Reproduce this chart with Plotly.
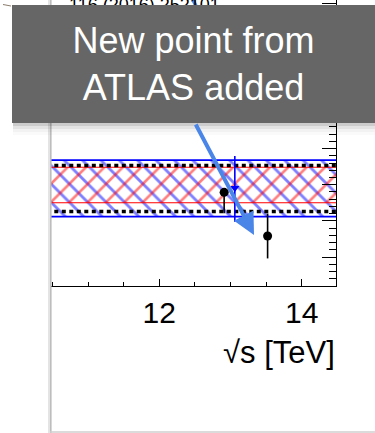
import plotly.graph_objects as go

# ---------------- data ----------------
x_band = [10.0, 15.0]
blue_band = [0.9560, 1.0341]      # low, high
red_band = [0.9751, 1.0241]
dashed_levels = [1.0265, 0.9630]

pt_x = [12.91, 13.52]
pt_y = [0.9895, 0.9291]
pt_err_plus = [0.004, 0.031]
pt_err_minus = [0.029, 0.031]

blue_x = [13.06]
blue_y = [0.9954]
blue_err_plus = [0.0443]
blue_err_minus = [0.0466]

x_range = [10.48, 14.48]
y_range = [0.86, 1.2553]
x_tick_vals = [12, 14]
x_tick_text = ["12", "14"]

W, H = 375, 433
ML, MR, MT, MB = 51, 39, 0, 147
PW, PH = W - ML - MR, H - MT - MB


def px_x(p):
    return (p - ML) / PW


def px_y(p):
    return (MT + PH - p) / PH


FONT = "Liberation Sans, Arial, Helvetica, sans-serif"

fig = go.Figure()

# blue hatched band
fig.add_trace(go.Scatter(
    x=[x_band[0], x_band[1], x_band[1], x_band[0], x_band[0]],
    y=[blue_band[0], blue_band[0], blue_band[1], blue_band[1], blue_band[0]],
    mode="lines", fill="toself", fillcolor="rgba(0,0,0,0)",
    fillpattern=dict(shape="\\", fgcolor="#0000ff", bgcolor="rgba(255,255,255,0)",
                     size=13, solidity=0.22),
    line=dict(color="#0000ff", width=1.8), hoverinfo="skip", showlegend=False))

# red hatched band
fig.add_trace(go.Scatter(
    x=[x_band[0], x_band[1], x_band[1], x_band[0], x_band[0]],
    y=[red_band[0], red_band[0], red_band[1], red_band[1], red_band[0]],
    mode="lines", fill="toself", fillcolor="rgba(0,0,0,0)",
    fillpattern=dict(shape="/", fgcolor="#ff0000", bgcolor="rgba(255,255,255,0)",
                     size=13, solidity=0.2),
    line=dict(color="#ff0000", width=1.2), hoverinfo="skip", showlegend=False))

# black dashed lines
for lvl in dashed_levels:
    fig.add_trace(go.Scatter(
        x=x_band, y=[lvl, lvl], mode="lines",
        line=dict(color="black", width=3.5, dash="4px,3.5px"),
        hoverinfo="skip", showlegend=False))

# black points
fig.add_trace(go.Scatter(
    x=pt_x, y=pt_y, mode="markers",
    marker=dict(color="black", size=9, symbol="circle"),
    error_y=dict(type="data", symmetric=False, array=pt_err_plus,
                 arrayminus=pt_err_minus, color="black", thickness=1.6, width=0),
    showlegend=False))

# blue point
fig.add_trace(go.Scatter(
    x=blue_x, y=blue_y, mode="markers",
    marker=dict(color="#0000ff", size=8, symbol="triangle-down"),
    error_y=dict(type="data", symmetric=False, array=blue_err_plus,
                 arrayminus=blue_err_minus, color="#0000ff", thickness=1.6, width=0),
    showlegend=False))

shapes = []
# frame lines of the slide
shapes.append(dict(type="line", xref="paper", yref="paper",
                   x0=px_x(49), x1=px_x(49), y0=px_y(0), y1=px_y(433),
                   line=dict(color="#e4e4e4", width=2), layer="above"))
shapes.append(dict(type="line", xref="paper", yref="paper",
                   x0=px_x(50.8), x1=px_x(50.8), y0=px_y(0), y1=px_y(433),
                   line=dict(color="#bdbdbd", width=1.6), layer="above"))
shapes.append(dict(type="line", xref="paper", yref="paper",
                   x0=px_x(50), x1=px_x(375), y0=px_y(432), y1=px_y(432),
                   line=dict(color="#cfcfcf", width=1.5), layer="above"))
# box shadow
for i, a in enumerate([0.20, 0.11, 0.05, 0.02]):
    shapes.append(dict(type="rect", xref="paper", yref="paper",
                       x0=px_x(13), x1=px_x(380),
                       y0=px_y(123 + 3 * i), y1=px_y(126 + 3 * i),
                       fillcolor=f"rgba(0,0,0,{a})", line=dict(width=0), layer="above"))
# small blue line at top
shapes.append(dict(type="line", xref="paper", yref="paper",
                   x0=px_x(193), x1=px_x(196.5), y0=px_y(0), y1=px_y(7),
                   line=dict(color="#4a86e8", width=3.5), layer="above"))
# small mark at top-left
shapes.append(dict(type="line", xref="paper", yref="paper",
                   x0=px_x(3), x1=px_x(11), y0=px_y(4.5), y1=px_y(6),
                   line=dict(color="#8c7c6c", width=1), layer="above"))

annotations = []
# partially hidden reference text at top
annotations.append(dict(text="116 (2016) 252101", xref="paper", yref="paper",
                        x=px_x(222), y=px_y(5), xanchor="right", yanchor="middle",
                        showarrow=False, font=dict(family=FONT, size=18, color="black")))
# grey call-out box
annotations.append(dict(text="New point from<br>ATLAS added", xref="paper", yref="paper",
                        x=px_x(193.5), y=px_y(64), xanchor="center", yanchor="middle",
                        width=363, height=118, bgcolor="#666666", borderpad=0,
                        borderwidth=0, align="center", valign="middle",
                        showarrow=False, font=dict(family=FONT, size=36, color="white")))
# blue arrow
annotations.append(dict(text="", xref="paper", yref="paper",
                        x=px_x(254), y=px_y(235), ax=-59, ay=-112,
                        axref="pixel", ayref="pixel",
                        showarrow=True, arrowhead=2, arrowsize=1.1, arrowwidth=4,
                        arrowcolor="#4a86e8", standoff=0, startstandoff=0))
# x-axis title
annotations.append(dict(text="√s [TeV]", xref="paper", yref="paper",
                        x=px_x(337), y=px_y(352), xanchor="right", yanchor="middle",
                        showarrow=False, font=dict(family=FONT, size=31, color="black")))

fig.update_layout(
    width=W, height=H,
    margin=dict(l=ML, r=MR, t=MT, b=MB, pad=0),
    paper_bgcolor="white", plot_bgcolor="white",
    font=dict(family=FONT, color="black"),
    showlegend=False,
    shapes=shapes, annotations=annotations,
    xaxis=dict(range=x_range, showgrid=False, zeroline=False,
               showline=True, linecolor="black", linewidth=1.4,
               ticks="inside", ticklen=7, tickwidth=1.4, tickcolor="black",
               tickmode="array", tickvals=x_tick_vals, ticktext=x_tick_text,
               tickfont=dict(family=FONT, size=30, color="black"),
               minor=dict(ticks="inside", ticklen=3.5, tickwidth=1.2, dtick=0.5,
                          tick0=10.0, tickcolor="black", showgrid=False)),
    yaxis=dict(range=y_range, side="right", showgrid=False, zeroline=False,
               showline=True, linecolor="black", linewidth=1.4,
               ticks="inside", ticklen=14, tickwidth=1.4, tickcolor="black",
               dtick=0.05, tick0=0.9, showticklabels=False,
               minor=dict(ticks="inside", ticklen=7, tickwidth=1.2, dtick=0.01,
                          tick0=0.9, tickcolor="black", showgrid=False)),
)

fig.write_html("out.html")
